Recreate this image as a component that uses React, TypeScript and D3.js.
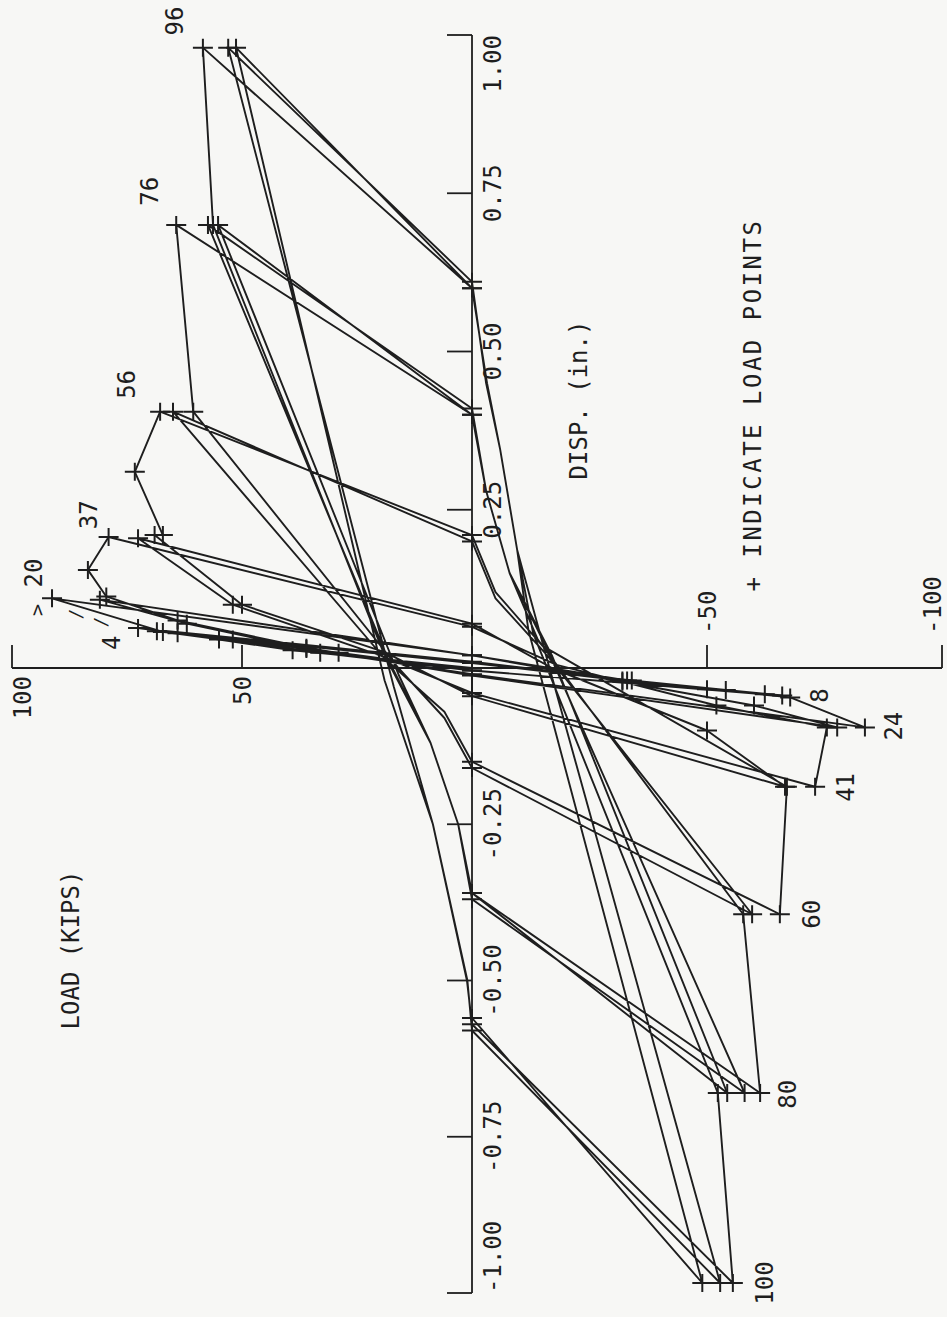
import * as d3 from "d3";

const W = 947;
const H = 1317;

// tick values
const dispTicks = [1, 0.75, 0.5, 0.25, -0.25, -0.5, -0.75, -1];
const dispTickLabels = ["1.00", "0.75", "0.50", "0.25", "-0.25", "-0.50", "-0.75", "-1.00"];
const loadTicks = [100, 50, -50, -100];
const loadTickLabels = ["100", "50", "-50", "-100"];

// load path, one array per amplitude level: [disp (in.), load (kips), 1 = load point]
const traceA = [
  [0, 0, 1], [0.028, 39, 1], [0.045, 55, 1], [0.055, 64, 1], [0.063, 72.6, 1],
  [0.01, 0, 1], [-0.02, -34, 1], [-0.035, -54, 1], [-0.044, -66, 1],
  [-0.004, 0, 1], [0.024, 29, 1], [0.045, 52, 1], [0.058, 68.5, 1],
  [0.008, 0, 1], [-0.02, -32, 1], [-0.034, -50, 1], [-0.042, -62.3, 1],
];
const traceB = [
  [-0.004, 0, 1], [0.024, 33, 1], [0.057, 67.2, 1], [0.11, 91.3, 1],
  [0.02, 0, 1], [-0.02, -33, 1], [-0.047, -67.7, 1], [-0.095, -83.6, 1],
  [-0.01, 0, 1], [0.03, 36, 1], [0.07, 62, 1], [0.108, 80.9, 1],
  [0.02, 0, 1], [-0.022, -32, 1], [-0.06, -60, 1], [-0.095, -77.7, 1],
  [-0.012, 0, 1], [0.032, 36, 1], [0.075, 64, 1], [0.113, 79.5, 1], [0.155, 83.5, 1], [0.207, 79, 1],
];
const traceC = [
  [0.065, 0, 1], [0.005, -18, 0], [-0.06, -52, 1], [-0.095, -75.5, 1], [-0.19, -73, 1],
  [-0.04, 0, 1], [0.02, 20, 0], [0.1, 52, 1], [0.205, 72.6, 1],
  [0.07, 0, 1], [0.0, -17, 0], [-0.1, -50, 1], [-0.19, -66.6, 1],
  [-0.045, 0, 1], [0.025, 19, 0], [0.1, 50, 1], [0.21, 69, 1], [0.21, 67.2, 1], [0.31, 73.3, 1], [0.405, 67.8, 1],
];
const traceD = [
  [0.21, 0, 1], [0.12, -5, 0], [0.035, -15, 0], [-0.19, -67, 1], [-0.394, -65.5, 1],
  [-0.15, 0, 1], [-0.07, 6, 0], [0.015, 19, 0], [0.405, 65, 1],
  [0.2, 0, 1], [0.11, -5, 0], [0.02, -16, 0], [-0.394, -59.6, 1],
  [-0.16, 0, 1], [-0.08, 6, 0], [0.0, 16, 0], [0.405, 60.6, 1], [0.7, 64.3, 1],
];
const traceE = [
  [0.4, 0, 1], [0.28, -3, 0], [0.15, -8, 0], [0.045, -14, 0], [-0.394, -57.7, 1], [-0.68, -61.3, 1],
  [-0.36, 0, 1], [-0.25, 3, 0], [-0.12, 9, 0], [0.01, 18, 0], [0.7, 57.4, 1],
  [0.41, 0, 1], [0.28, -3, 0], [0.15, -8, 0], [0.03, -16, 0], [-0.68, -58, 1],
  [-0.37, 0, 1], [-0.25, 3, 0], [-0.12, 9, 0], [-0.01, 16, 0], [0.7, 55.2, 1],
  [0.4, 0, 1], [0.28, -3, 0], [0.15, -8, 0], [0.02, -17, 0], [-0.68, -54.3, 1],
  [-0.36, 0, 1], [-0.25, 3, 0], [-0.12, 9, 0], [0.02, 19, 0], [0.7, 56.3, 1], [0.98, 58.5, 1],
];
const traceF = [
  [0.6, 0, 1], [0.45, -3.2, 0], [0.345, -6, 0], [0.187, -9.6, 0], [0.055, -13, 0], [-0.68, -52.3, 1], [-0.984, -55.5, 1],
  [-0.57, 0, 1], [-0.5, 1.1, 0], [-0.25, 8.5, 0], [-0.03, 17, 0], [0.98, 53, 1],
  [0.61, 0, 1], [0.45, -3, 0], [0.345, -6, 0], [0.187, -9.6, 0], [0.04, -15, 0], [-0.984, -52.8, 1],
  [-0.58, 0, 1], [-0.5, 1, 0], [-0.25, 8.5, 0], [-0.02, 19, 0], [0.98, 51.3, 1],
  [0.6, 0, 1], [0.45, -3.2, 0], [0.345, -6, 0], [0.187, -9.6, 0], [0.06, -12, 0], [-0.984, -49, 1],
  [-0.56, 0, 1],
];

// load point numbers written next to the peaks
const peakLabels = ["4", "8", "20", "24", "37", "41", "56", "60", "76", "80", "96", "100"];
const peakLabelDisp = [0.04, -0.044, 0.15, -0.093, 0.242, -0.191, 0.448, -0.394, 0.753, -0.682, 1.022, -0.984];
const peakLabelLoad = [78.3, -74, 95.4, -89.6, 83.5, -79.4, 75.2, -72.3, 70.2, -67.2, 64.8, -62.1];

const x = d3.scaleLinear().domain([100, 0, -100]).range([12, 472, 942]);
const y = d3.scaleLinear().domain([1, 0, -1]).range([35, 668, 1293]);

const trace = [traceA, traceB, traceC, traceD, traceE, traceF].flat();
const line = d3
  .line<number[]>()
  .x((p) => x(p[1]))
  .y((p) => y(p[0]));

const ink = "#1e1e1e";
const font = "'DejaVu Sans Mono', monospace";

const Rot = ({ cx, cy, anchor = "middle", size = 24, spacing = 0, children }) => (
  <text
    transform={`translate(${cx},${cy}) rotate(-90)`}
    textAnchor={anchor}
    dy="0.36em"
    fontSize={size}
    fontFamily={font}
    letterSpacing={spacing}
    fill={ink}
  >
    {children}
  </text>
);

const App = () => {
  const x0 = x(0);
  const y0 = y(0);
  return (
    <svg
      width={W}
      height={H}
      viewBox={`0 0 ${W} ${H}`}
      style={{ position: "absolute", left: 0, top: 0 }}
    >
      <rect width={W} height={H} fill="#f7f7f5" />

      {/* load axis */}
      <g className="load-axis" stroke={ink} strokeWidth={1.8} fill="none">
        <line x1={x(100)} x2={x(-100)} y1={y0} y2={y0} />
        {loadTicks.map((t) => (
          <line key={t} x1={x(t)} x2={x(t)} y1={y0} y2={y0 - 23} />
        ))}
      </g>
      {loadTicks.map((t, i) => {
        const inset = t === 100 ? 10 : t === -100 ? -10 : 0;
        return t > 0 ? (
          <Rot key={t} cx={x(t) + inset} cy={y0 + 8} anchor="end">
            {loadTickLabels[i]}
          </Rot>
        ) : (
          <Rot key={t} cx={x(t) + inset} cy={y0 - 34} anchor="start">
            {loadTickLabels[i]}
          </Rot>
        );
      })}

      {/* displacement axis */}
      <g className="disp-axis" stroke={ink} strokeWidth={1.8} fill="none">
        <line x1={x0} x2={x0} y1={y(1)} y2={y(-1)} />
        {dispTicks.map((t) => (
          <line key={t} x1={x0 - 25} x2={x0} y1={y(t)} y2={y(t)} />
        ))}
      </g>
      {dispTicks.map((t, i) => (
        <Rot
          key={t}
          cx={x0 + 20}
          cy={y(t)}
          anchor={t === 1 ? "end" : t === -1 ? "start" : "middle"}
        >
          {dispTickLabels[i]}
        </Rot>
      ))}

      {/* hysteresis trace */}
      <path d={line(trace)} fill="none" stroke={ink} strokeWidth={1.9} strokeLinejoin="round" />
      <g className="load-points" stroke={ink} strokeWidth={2}>
        {trace
          .filter((p) => p[2] === 1)
          .map((p, i) => {
            const px = x(p[1]);
            const py = y(p[0]);
            return <path key={i} d={`M${px - 10},${py}h20M${px},${py - 9}v18`} />;
          })}
      </g>

      {peakLabels.map((s, i) => (
        <Rot key={s} cx={x(peakLabelLoad[i])} cy={y(peakLabelDisp[i])}>
          {s}
        </Rot>
      ))}
      <Rot cx={37} cy={610} size={20}>{">"}</Rot>
      <Rot cx={76} cy={614} size={18}>/</Rot>
      <Rot cx={101} cy={622} size={18}>/</Rot>

      <Rot cx={70} cy={950}>LOAD (KIPS)</Rot>
      <Rot cx={578} cy={400}>DISP. (in.)</Rot>
      <Rot cx={752} cy={405} spacing={2.5}>+ INDICATE LOAD POINTS</Rot>
    </svg>
  );
};

export default App;
